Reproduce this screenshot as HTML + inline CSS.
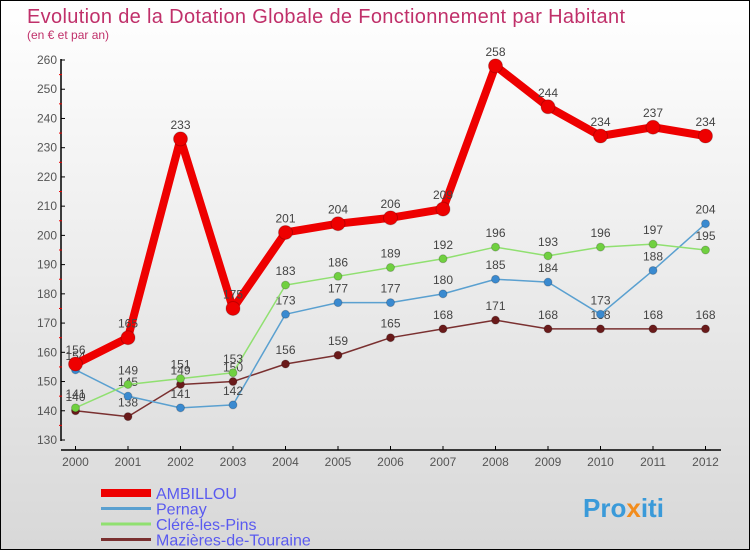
<!DOCTYPE html>
<html><head><meta charset="utf-8"><style>
body{margin:0}
#c{width:750px;height:550px;position:relative;box-sizing:border-box;border:1px solid #000;background:linear-gradient(#fff,#d8d8d8);font-family:"Liberation Sans",sans-serif;overflow:hidden}
</style></head><body>
<div id="c">
<svg id="s" width="748" height="548" xmlns="http://www.w3.org/2000/svg">
<text x="26" y="22" font-size="20" textLength="598" fill="#c0306a">Evolution de la Dotation Globale de Fonctionnement par Habitant</text>
<text x="26" y="38" font-size="12" fill="#c0306a">(en € et par an)</text>
<g id="axes"></g><g id="series"></g><g id="legend"></g>
<text x="582" y="516" font-size="26" font-weight="bold" fill="#3a9ad9">Pro<tspan fill="#f28c1c">x</tspan>iti</text>
</svg></div>
<script>
const years=[2000,2001,2002,2003,2004,2005,2006,2007,2008,2009,2010,2011,2012];
const ambillou=[156,165,233,175,201,204,206,209,258,244,234,237,234];
const pernay=[154,145,141,142,173,177,177,180,185,184,173,188,204];
const clere=[141,149,151,153,183,186,189,192,196,193,196,197,195];
const mazieres=[140,138,149,150,156,159,165,168,171,168,168,168,168];
const yTicks=[130,140,150,160,170,180,190,200,210,220,230,240,250,260];
const NS="http://www.w3.org/2000/svg";
const X=i=>74.5+i*52.5, Y=v=>439-(v-130)*(380/130);
function el(t,a,p){const e=document.createElementNS(NS,t);for(const k in a)e.setAttribute(k,a[k]);p.appendChild(e);return e;}
const ax=document.getElementById('axes');
let l=el('line',{x1:60,y1:58,x2:60,y2:440,stroke:'#000','stroke-width':1.5},ax);


l=el('line',{x1:60,y1:449,x2:720,y2:449,stroke:'#000','stroke-width':1.5},ax);


yTicks.forEach((v,i)=>{
 el('line',{x1:60,y1:Y(v),x2:64,y2:Y(v),stroke:'#000'},ax);
 if(i<yTicks.length-1)el('line',{x1:58,y1:Y(v+5),x2:61,y2:Y(v+5),stroke:'#e00'},ax);
 const t=el('text',{x:56,y:Y(v)+4,'font-size':12,fill:'#555','text-anchor':'end'},ax);t.textContent=v;
 
 
});
years.forEach((y,i)=>{
 el('line',{x1:X(i),y1:445,x2:X(i),y2:449,stroke:'#000'},ax);
 const t=el('text',{x:X(i),y:465,'font-size':12,fill:'#555','text-anchor':'middle'},ax);t.textContent=y;
 
 
});
const sg=document.getElementById('series');
function draw(data,color,w,r,fill,name){
 const g=el('g',{},sg);
 
 
 el('polyline',{points:data.map((v,i)=>X(i)+','+Y(v)).join(' '),fill:'none',stroke:color,'stroke-width':w,'stroke-linejoin':'round'},g);
 data.forEach((v,i)=>{
  const c=el('circle',{cx:X(i),cy:Y(v),r:r,fill:fill,stroke:'rgba(0,0,0,0.2)'},g);
  
  
  const t=el('text',{x:X(i),y:Y(v)-10,'font-size':12,fill:'#444','text-anchor':'middle'},g);t.textContent=v;
  
  
 });
}
draw(mazieres,'#7a3030',1.5,4,'#6a1a1a','mazieres-series');
draw(pernay,'#5aa0d0',1.5,4,'#3a8ad0','pernay-series');
draw(clere,'#90e070',1.5,4,'#70d040','clere-series');
draw(ambillou,'#ee0000',8,7,'#ee0000','ambillou-series');
const lg=document.getElementById('legend');
[['AMBILLOU','#ee0000',8],['Pernay','#5aa0d0',3],['Cléré-les-Pins','#90e070',3],['Mazières-de-Touraine','#7a3030',3]].forEach((d,i)=>{
 const g=el('g',{},lg);
 
 
 const y=492+i*15.5;
 el('line',{x1:100,y1:y,x2:150,y2:y,stroke:d[1],'stroke-width':d[2]},g);
 const t=el('text',{x:155,y:y+6,'font-size':16,fill:'#5a5af0'},g);t.textContent=d[0];
});
</script>
</body></html>
